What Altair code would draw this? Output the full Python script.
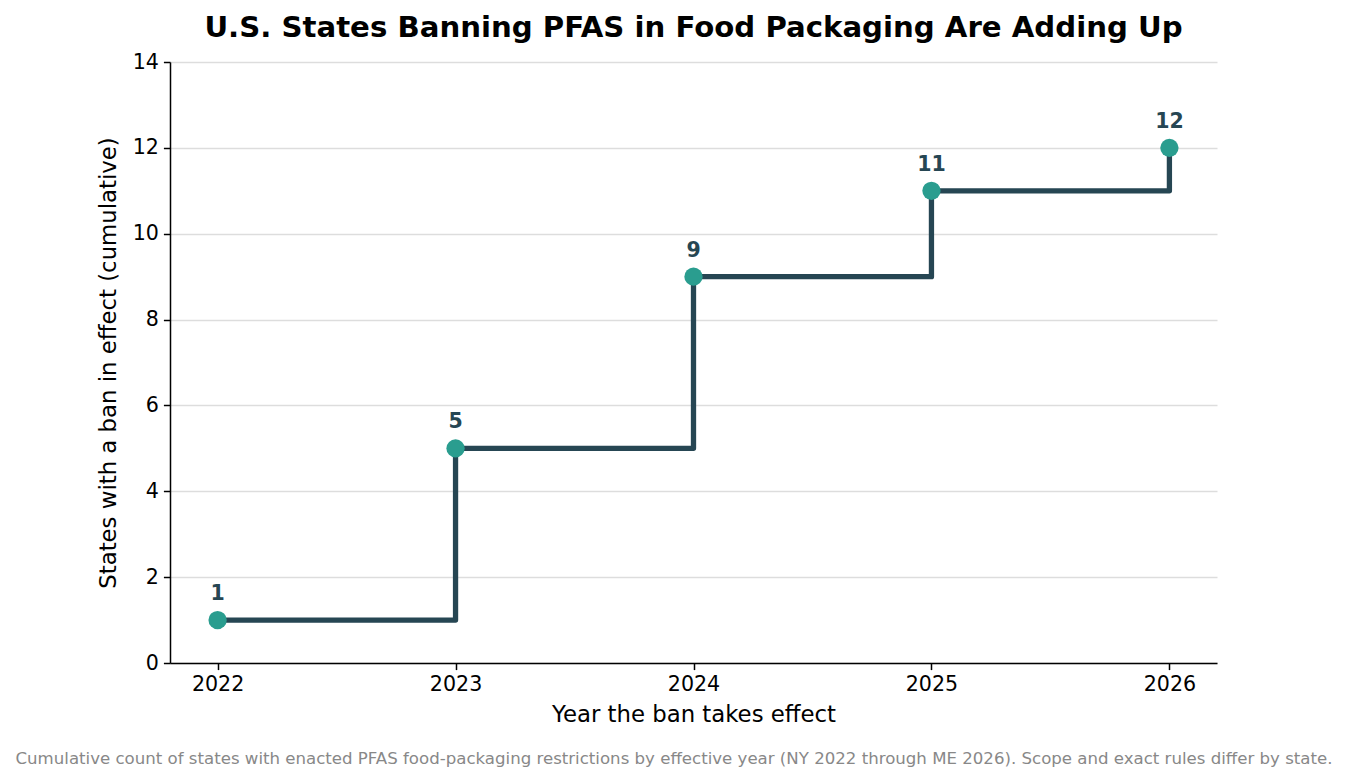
import altair as alt
import pandas as pd

years = [2022, 2023, 2024, 2025, 2026]
counts = [1, 5, 9, 11, 12]
labels = ["1", "5", "9", "11", "12"]

df = pd.DataFrame({"year": years, "count": counts, "label": labels})

FONT = "DejaVu Sans"
W, H = 1047, 601

x = alt.X("year:Q", scale=alt.Scale(domain=[2021.8, 2026.2], nice=False, zero=False),
          axis=alt.Axis(values=years, format="d", title="Year the ban takes effect",
                        grid=False, tickCount=5))
y = alt.Y("count:Q", scale=alt.Scale(domain=[0, 14], nice=False),
          axis=alt.Axis(values=[0, 2, 4, 6, 8, 10, 12, 14],
                        title="States with a ban in effect (cumulative)", grid=True))

base = alt.Chart(df)

line = base.mark_line(interpolate="step-after", color="#264653", strokeWidth=5.3,
                      strokeCap="square", strokeJoin="round").encode(x=x, y=y)
pts = base.mark_circle(color="#2a9d8f", opacity=1, size=335).encode(x=x, y=y)
txt = base.mark_text(font=FONT, fontSize=20.5, fontWeight="bold", color="#264653",
                     baseline="alphabetic", dy=-20).encode(x=x, y=y, text="label:N")

foot = alt.Chart(pd.DataFrame({"t": ["Cumulative count of states with enacted PFAS food-packaging restrictions by effective year (NY 2022 through ME 2026). Scope and exact rules differ by state."]})).mark_text(
    font=FONT, fontSize=16.6, color="#888888", baseline="middle", align="center"
).encode(x=alt.value(504), y=alt.value(697), text="t:N")

chart = alt.layer(line, pts, txt, foot).properties(
    width=W, height=H,
    title=alt.TitleParams("U.S. States Banning PFAS in Food Packaging Are Adding Up",
                          font=FONT, fontSize=29.2, fontWeight="bold", color="black",
                          anchor="middle", offset=9),
    autosize=alt.AutoSizeParams(type="none"),
    padding={"left": 162, "top": 54, "right": 123, "bottom": 110},
).configure_view(stroke=None).configure_axis(
    labelFont=FONT, titleFont=FONT, labelFontSize=20.6, titleFontSize=22.8,
    labelColor="black", titleColor="black", titleFontWeight="normal",
    domainColor="black", domainWidth=1.5, tickColor="black", tickWidth=1.5, tickSize=6.6,
    gridColor="#dddddd", gridWidth=1.3, labelPadding=5,
).configure_axisX(titlePadding=8).configure_axisY(titlePadding=12, labelPadding=5)

chart.save("out.html", embed_options={"renderer": "svg", "actions": False})
